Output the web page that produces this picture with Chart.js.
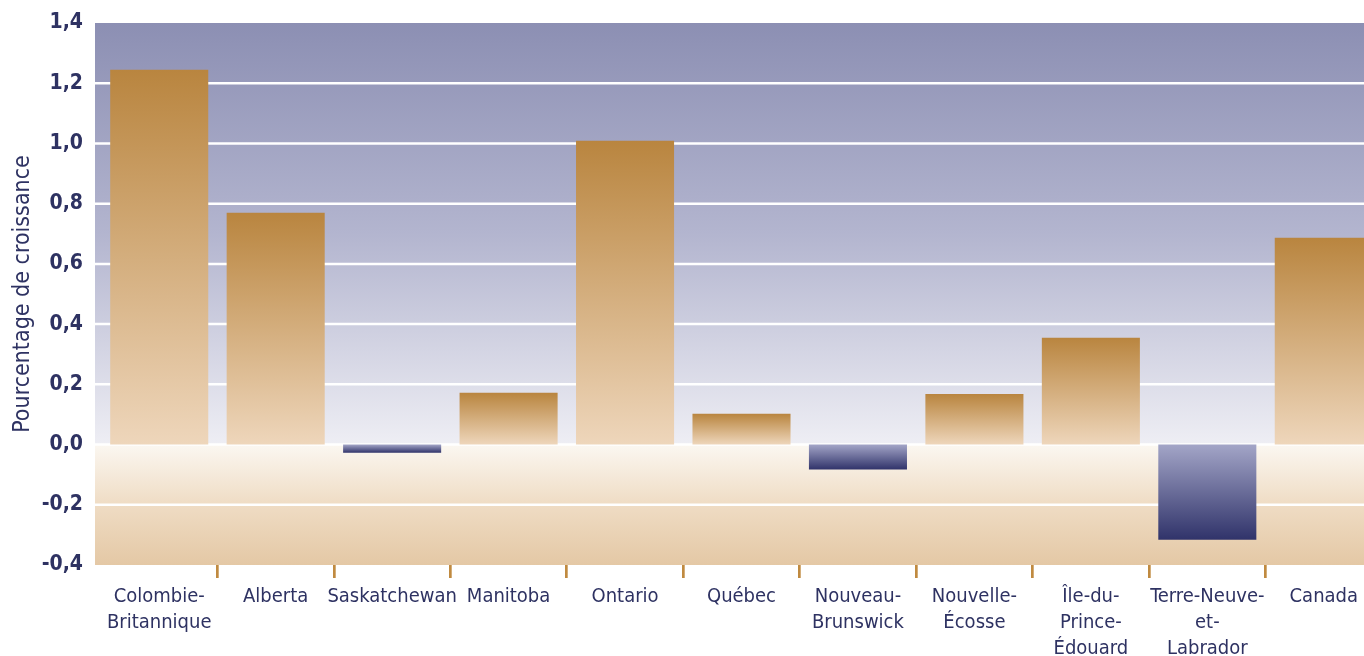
<!DOCTYPE html>
<html><head><meta charset="utf-8">
<script src="https://cdn.jsdelivr.net/npm/chart.js@4.4.1/dist/chart.umd.min.js"></script>
<style>
html,body{margin:0;padding:0;overflow:hidden;background:#fff;width:1364px;height:656px}
#wrap{position:absolute;left:0;top:0;width:1382px;height:656px}
</style></head>
<body><div id="wrap"><canvas id="c"></canvas></div>
<script>
const categories = [
  ['Colombie-','Britannique'], 'Alberta', 'Saskatchewan', 'Manitoba', 'Ontario', 'Québec',
  ['Nouveau-','Brunswick'], ['Nouvelle-','Écosse'], ['Île-du-','Prince-','Édouard'],
  ['Terre-Neuve-','et-','Labrador'], 'Canada'
];
const growth = [1.245, 0.770, -0.027, 0.172, 1.009, 0.102, -0.083, 0.168, 0.355, -0.316, 0.687];
const yMin = -0.4, yMax = 1.4, yStep = 0.2;
const yTitle = 'Pourcentage de croissance';

const FONT = '"Liberation Sans Narrow", "DejaVu Sans Condensed", "Liberation Sans", sans-serif';
const NAVY = '#2e3262';

function barFill(ctx) {
  const chart = ctx.chart;
  const ys = chart.scales && chart.scales.y;
  if (!chart.chartArea || !ys) return '#c9a070';
  const v = ctx.raw;
  const y0 = ys.getPixelForValue(0), y1 = ys.getPixelForValue(v);
  if (Math.abs(y1 - y0) < 0.5) return v >= 0 ? '#c9a070' : '#5a5d88';
  const g = chart.ctx.createLinearGradient(0, y1, 0, y0);
  if (v >= 0) { g.addColorStop(0, '#b9853f'); g.addColorStop(1, '#eed6bb'); }
  else { g.addColorStop(0, '#30336a'); g.addColorStop(1, '#a3a5c7'); }
  return g;
}

const bgPlugin = {
  id: 'bg',
  beforeDraw(chart) {
    const {ctx, chartArea, scales} = chart;
    const ys = scales.y;
    const left = chartArea.left - 6, right = chart.width;
    const yTop = ys.getPixelForValue(yMax), yZero = ys.getPixelForValue(0), yBot = ys.getPixelForValue(yMin);
    ctx.save();
    let g = ctx.createLinearGradient(0, yTop, 0, yZero);
    g.addColorStop(0, '#8c8fb3');
    g.addColorStop(0.5, '#b3b5cf');
    g.addColorStop(1, '#eeeef4');
    ctx.fillStyle = g;
    ctx.fillRect(left, yTop, right - left, yZero - yTop);
    g = ctx.createLinearGradient(0, yZero, 0, yBot);
    g.addColorStop(0, '#fbf7f1');
    g.addColorStop(0.5, '#efdcc4');
    g.addColorStop(1, '#e4c8a5');
    ctx.fillStyle = g;
    ctx.fillRect(left, yZero, right - left, yBot - yZero);
    ctx.restore();
  },
  beforeDatasetsDraw(chart) {
    const {ctx, chartArea, scales} = chart;
    const ys = scales.y;
    const left = chartArea.left - 6, right = chart.width;
    ctx.save();
    ctx.strokeStyle = '#ffffff';
    ctx.lineWidth = 2.5;
    ys.ticks.forEach(t => {
      if (t.value <= yMin + 1e-9 || t.value >= yMax - 1e-9) return;
      const y = ys.getPixelForValue(t.value);
      ctx.beginPath(); ctx.moveTo(left, y); ctx.lineTo(right, y); ctx.stroke();
    });
    ctx.restore();
  }
};

new Chart(document.getElementById('c'), {
  type: 'bar',
  data: {
    labels: categories,
    datasets: [{ data: growth, backgroundColor: barFill, borderWidth: 0,
      barPercentage: 0.842, categoryPercentage: 1.0 }]
  },
  options: {
    responsive: true, maintainAspectRatio: false, animation: false, devicePixelRatio: 1,
    layout: { padding: { top: 23, left: 0, right: 0, bottom: 0 } },
    plugins: { legend: { display: false }, tooltip: { enabled: false } },
    scales: {
      x: {
        offset: true,
        afterFit(s) { s.height = 91; },
        border: { display: false },
        grid: {
          offset: true, drawOnChartArea: false, drawTicks: true, tickLength: 13,
          lineWidth: 2.7,
          color: c => (c.index === 0 || c.index === categories.length) ? 'rgba(0,0,0,0)' : '#c08a40'
        },
        ticks: { autoSkip: false, maxRotation: 0, padding: 6, color: NAVY,
          font: { family: FONT, size: 20, lineHeight: 1.3 } }
      },
      y: {
        min: yMin, max: yMax,
        afterFit(s) { s.width = 101; },
        border: { display: false },
        grid: { display: true, drawOnChartArea: false, drawTicks: true, tickLength: 16,
          color: 'rgba(0,0,0,0)' },
        ticks: { stepSize: yStep, padding: 2, color: NAVY,
          font: { family: FONT, size: 21, weight: 'bold' },
          callback: v => (Math.round(v * 10) / 10).toFixed(1).replace('.', ',') },
        title: { display: true, text: yTitle, color: NAVY, padding: { top: 9, bottom: 0 },
          font: { family: FONT, size: 23 } }
      }
    }
  },
  plugins: [bgPlugin]
});
</script>
</body></html>
